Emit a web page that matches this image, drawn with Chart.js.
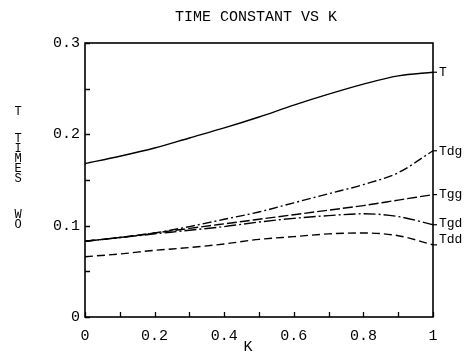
<!DOCTYPE html>
<html>
<head>
<meta charset="utf-8">
<script src="https://cdn.jsdelivr.net/npm/chart.js@4/dist/chart.umd.min.js"></script>
<style>
  html, body { margin: 0; padding: 0; background: #fff; }
  #wrap { width: 470px; height: 353px; }
</style>
</head>
<body>
<div id="wrap"><canvas id="c" width="470" height="353"></canvas></div>
<script>
// ---- data ----
const kValues = [0, 0.1, 0.2, 0.3, 0.4, 0.5, 0.6, 0.7, 0.8, 0.9, 1.0];
const T   = [0.168, 0.176, 0.185, 0.196, 0.207, 0.219, 0.232, 0.244, 0.255, 0.264, 0.268];
const Tdg = [0.083, 0.087, 0.092, 0.099, 0.107, 0.115, 0.125, 0.135, 0.145, 0.158, 0.182];
const Tgg = [0.083, 0.087, 0.092, 0.097, 0.102, 0.107, 0.112, 0.117, 0.122, 0.128, 0.134];
const Tgd = [0.083, 0.087, 0.091, 0.095, 0.099, 0.104, 0.108, 0.111, 0.113, 0.110, 0.101];
const Tdd = [0.066, 0.069, 0.073, 0.076, 0.080, 0.085, 0.088, 0.091, 0.092, 0.089, 0.079];
const seriesNames = ['T', 'Tdg', 'Tgg', 'Tgd', 'Tdd'];
const seriesValues = [T, Tdg, Tgg, Tgd, Tdd];
const xTickLabels = ['0', '0.2', '0.4', '0.6', '0.8', '1'];
const yTickLabels = ['0', '0.1', '0.2', '0.3'];
const titleText = 'TIME CONSTANT VS K';
const xTitle = 'K';
const yTitleLetters = ['T', 'T', 'I', 'M', 'E', 'S', 'W', 'O'];

// ---- styles ----
const FONT = '"Liberation Mono", "Courier New", monospace';
const dashes = { T: [], Tdg: [9, 3, 2, 3], Tgg: [10, 3], Tgd: [12, 3, 2, 3], Tdd: [8, 4] };
const labelDy = { T: 0, Tdg: 1, Tgg: 0, Tgd: -1, Tdd: -5 };
const yTitlePos = [112, 139, 149, 159, 169, 179, 215, 225];

const datasets = seriesNames.map((name, i) => ({
  label: name,
  data: kValues.map((k, j) => ({ x: k, y: seriesValues[i][j] })),
  borderColor: '#000',
  borderWidth: 1.4,
  borderDash: dashes[name],
  pointRadius: 0,
  fill: false,
  cubicInterpolationMode: 'monotone'
}));

const decor = {
  id: 'decor',
  afterDraw(chart) {
    const ctx = chart.ctx;
    const a = chart.chartArea;
    const xs = chart.scales.x, ys = chart.scales.y;
    ctx.save();
    ctx.strokeStyle = '#000';
    ctx.fillStyle = '#000';
    // frame
    ctx.lineWidth = 1.6;
    ctx.strokeRect(a.left, a.top, a.right - a.left, a.bottom - a.top);
    // inward ticks
    ctx.lineWidth = 1.3;
    ctx.beginPath();
    ys.ticks.forEach(t => {
      const y = Math.round(ys.getPixelForValue(t.value)) + 0.5;
      ctx.moveTo(a.left, y); ctx.lineTo(a.left + 5, y);
    });
    xs.ticks.forEach(t => {
      const x = Math.round(xs.getPixelForValue(t.value)) + 0.5;
      ctx.moveTo(x, a.bottom); ctx.lineTo(x, a.bottom - 5);
    });
    ctx.stroke();
    // title
    ctx.font = '15px ' + FONT;
    ctx.textAlign = 'center';
    ctx.textBaseline = 'middle';
    ctx.fillText(titleText, (a.left + a.right) / 2 - 3, 17);
    // x title
    ctx.fillText(xTitle, 248, 347);
    // y title letters stacked vertically
    ctx.font = '12px ' + FONT;
    yTitleLetters.forEach((ch, i) => ctx.fillText(ch, 18, yTitlePos[i]));
    // right-end labels with connector ticks
    ctx.font = '13px ' + FONT;
    ctx.textAlign = 'left';
    chart.data.datasets.forEach(ds => {
      const last = ds.data[ds.data.length - 1];
      const py = ys.getPixelForValue(last.y);
      ctx.beginPath();
      ctx.lineWidth = 1.2;
      ctx.moveTo(a.right, py); ctx.lineTo(a.right + 4, py);
      ctx.stroke();
      ctx.fillText(ds.label, a.right + 6, py + labelDy[ds.label]);
    });
    ctx.restore();
  }
};

new Chart(document.getElementById('c'), {
  type: 'line',
  data: { datasets },
  options: {
    responsive: false,
    animation: false,
    devicePixelRatio: 1,
    layout: { padding: { top: 43, right: 37, left: 0, bottom: 0 } },
    plugins: { legend: { display: false }, tooltip: { enabled: false }, title: { display: false } },
    scales: {
      x: {
        type: 'linear', min: 0, max: 1,
        grid: { display: false, drawTicks: false },
        border: { display: false },
        afterFit(s) { s.height = 36; },
        ticks: {
          stepSize: 0.1, padding: 10, color: '#000', maxRotation: 0, autoSkip: false,
          font: { family: FONT, size: 15 },
          callback(v) {
            const i = Math.round(v * 10);
            return (Math.abs(v * 10 - i) < 1e-6 && i % 2 === 0) ? xTickLabels[i / 2] : '';
          }
        }
      },
      y: {
        type: 'linear', min: 0, max: 0.3,
        grid: { display: false, drawTicks: false },
        border: { display: false },
        afterFit(s) { s.width = 85; },
        ticks: {
          stepSize: 0.05, padding: 5, color: '#000', autoSkip: false,
          font: { family: FONT, size: 15 },
          callback(v) {
            const i = Math.round(v * 20);
            return (Math.abs(v * 20 - i) < 1e-6 && i % 2 === 0) ? yTickLabels[i / 2] : '';
          }
        }
      }
    }
  },
  plugins: [decor]
});
</script>
</body>
</html>
